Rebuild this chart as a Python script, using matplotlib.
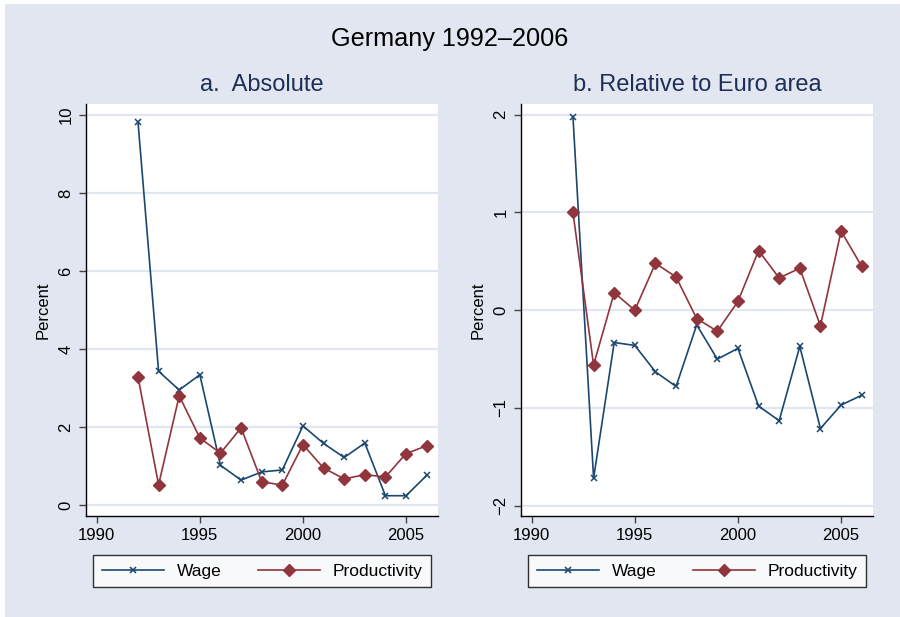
import matplotlib
matplotlib.use("Agg")
import matplotlib.pyplot as plt
from matplotlib.patches import Rectangle

plt.rcParams['font.family'] = ['Liberation Sans', 'DejaVu Sans']

years = list(range(1992, 2007))
wage_abs = [9.83, 3.43, 2.95, 3.34, 1.02, 0.64, 0.85, 0.90, 2.03, 1.58, 1.22, 1.59, 0.24, 0.24, 0.76]
prod_abs = [3.29, 0.52, 2.80, 1.72, 1.33, 1.98, 0.60, 0.51, 1.55, 0.95, 0.67, 0.78, 0.72, 1.32, 1.52]
wage_rel = [1.98, -1.72, -0.33, -0.36, -0.63, -0.78, -0.15, -0.50, -0.39, -0.98, -1.13, -0.37, -1.21, -0.97, -0.87]
prod_rel = [1.00, -0.56, 0.18, 0.00, 0.48, 0.34, -0.085, -0.215, 0.09, 0.61, 0.33, 0.43, -0.16, 0.81, 0.45]

main_title = "Germany 1992\u20132006"
sub_titles = ["a.  Absolute", "b. Relative to Euro area"]
xticks = [1990, 1995, 2000, 2005]
yticks_abs = [0, 2, 4, 6, 8, 10]
yticks_rel = [-2, -1, 0, 1, 2]
ytick_labels_rel = ["\u22122", "\u22121", "0", "1", "2"]
series_names = ["Wage", "Productivity"]

BG = '#e1e6f0'
GRID = '#e1e6f0'
NAVY = '#1a476f'
MAROON = '#90353b'
SUBC = '#1e2f57'

W, H = 900, 617
fig = plt.figure(figsize=(W / 100, H / 100), dpi=100, facecolor='white')
fig.patches.append(Rectangle((5 / W, 0), 1, 1 - 4 / H, transform=fig.transFigure,
                             facecolor=BG, edgecolor='none', zorder=-10))

def px_axes(x0, x1, y0, y1):
    return fig.add_axes([x0 / W, 1 - y1 / H, (x1 - x0) / W, (y1 - y0) / H])

panels = [
    (px_axes(86, 438, 104, 516), wage_abs, prod_abs, yticks_abs, [str(v) for v in yticks_abs], (-0.28, 10.28)),
    (px_axes(521, 873, 104, 516), wage_rel, prod_rel, yticks_rel, ytick_labels_rel, (-2.105, 2.11)),
]

for i, (ax, w, p, yt, ytl, ylim) in enumerate(panels):
    ax.set_facecolor('white')
    ax.plot(years, w, color=NAVY, lw=1.2, marker='x', ms=4.5, mew=1.1, label=series_names[0], zorder=3)
    ax.plot(years, p, color=MAROON, lw=1.2, marker='D', ms=6, mec=MAROON, mfc=MAROON,
            label=series_names[1], zorder=3)
    ax.set_xlim(1989.48, 2006.55)
    ax.set_ylim(*ylim)
    ax.set_xticks(xticks)
    ax.set_yticks(yt)
    ax.set_yticklabels(ytl, rotation=90, va='center')
    for s in ['top', 'right']:
        ax.spines[s].set_visible(False)
    for s in ['left', 'bottom']:
        ax.spines[s].set_color('black')
        ax.spines[s].set_linewidth(1.0)
    ax.tick_params(axis='both', labelsize=12, length=5, width=1, color='#444444', pad=4)
    ax.yaxis.grid(True, color=GRID, lw=1.6, zorder=0)
    ax.set_axisbelow(True)
    ax.set_ylabel("Percent", fontsize=12, labelpad=6)
    cx = (ax.get_position().x0 + ax.get_position().x1) / 2
    fig.text(cx, 1 - 85 / H, sub_titles[i], ha='center', va='center', fontsize=17, color=SUBC)
    lx = 262 if i == 0 else 697
    leg = fig.legend(handles=ax.get_lines(), loc='center', bbox_to_anchor=(lx / W, 1 - 571 / H),
                     ncol=2, fontsize=12.5, frameon=True, fancybox=False, handlelength=3.6,
                     handletextpad=0.7, columnspacing=2.1, borderpad=0.5)
    leg.get_frame().set_edgecolor('black')
    leg.get_frame().set_linewidth(1.0)
    leg.get_frame().set_facecolor('white')

fig.text(0.5, 1 - 39 / H, main_title, ha='center', va='center', fontsize=18.2, color='black')

fig.savefig("out.png", dpi=100, facecolor=fig.get_facecolor())
